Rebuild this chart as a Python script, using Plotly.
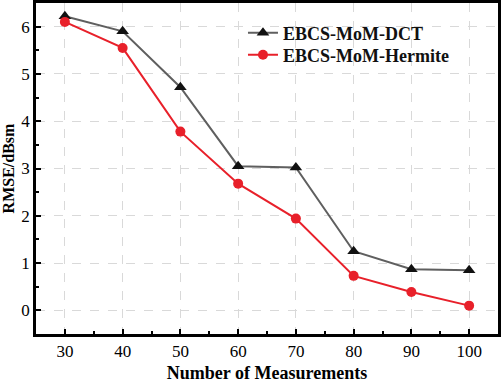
import plotly.graph_objects as go

measurements = [30, 40, 50, 60, 70, 80, 90, 100]
rmse_dct = [6.22, 5.9, 4.72, 3.05, 3.02, 1.25, 0.87, 0.85]
rmse_hermite = [6.1, 5.55, 3.78, 2.68, 1.94, 0.73, 0.39, 0.1]
x_ticks = [30, 40, 50, 60, 70, 80, 90, 100]
y_ticks = [0, 1, 2, 3, 4, 5, 6]

font_family = "Liberation Serif"

fig = go.Figure()
fig.add_trace(go.Scatter(
    x=measurements, y=rmse_dct, mode="lines+markers", name="<b>EBCS-MoM-DCT</b>",
    line=dict(color="#5f5f5f", width=2),
    marker=dict(symbol="triangle-up", size=11, color="#111111"),
    legend="legend",
))
fig.add_trace(go.Scatter(
    x=measurements, y=rmse_hermite, mode="lines+markers", name="<b>EBCS-MoM-Hermite</b>",
    line=dict(color="#e8202a", width=2),
    marker=dict(symbol="circle", size=10, color="#e8202a"),
    legend="legend2",
))

axis_common = dict(
    showline=True, linecolor="black", linewidth=2.5, mirror=True,
    ticks="inside", ticklen=5, tickwidth=2, tickcolor="black",
    showgrid=True, gridcolor="#d9d9d9", griddash="dash", gridwidth=1,
    zeroline=False, automargin=False,
    tickfont=dict(family=font_family, size=17, color="black"),
)

fig.update_xaxes(
    range=[25, 105], tickvals=x_ticks,
    minor=dict(ticks="inside", ticklen=3, tickwidth=2, tickcolor="black", dtick=5, tick0=25, showgrid=False),
    title=dict(text="<b>Number of Measurements</b>", font=dict(family=font_family, size=18, color="black"), standoff=9),
    **axis_common,
)
fig.update_yaxes(
    range=[-0.5, 6.5], tickvals=y_ticks,
    minor=dict(ticks="inside", ticklen=3, tickwidth=2, tickcolor="black", dtick=0.5, tick0=0, showgrid=False),
    title=dict(text="<b>RMSE/dBsm</b>", font=dict(family=font_family, size=16, color="black"), standoff=3),
    **axis_common,
)

legend_common = dict(
    xanchor="left", yanchor="middle",
    bgcolor="rgba(0,0,0,0)", borderwidth=0,
    font=dict(family=font_family, size=18, color="#111111"),
)

fig.update_layout(
    width=501, height=383,
    margin=dict(l=36, r=3, t=3, b=49),
    plot_bgcolor="white", paper_bgcolor="white",
    font=dict(family=font_family, color="black"),
    showlegend=True,
    legend=dict(x=0.448, y=0.909, **legend_common),
    legend2=dict(x=0.448, y=0.843, **legend_common),
)

fig.write_html(
    "out.html",
    config={"displayModeBar": False},
    post_script="document.body.style.margin='0';document.body.style.overflow='hidden';",
)
